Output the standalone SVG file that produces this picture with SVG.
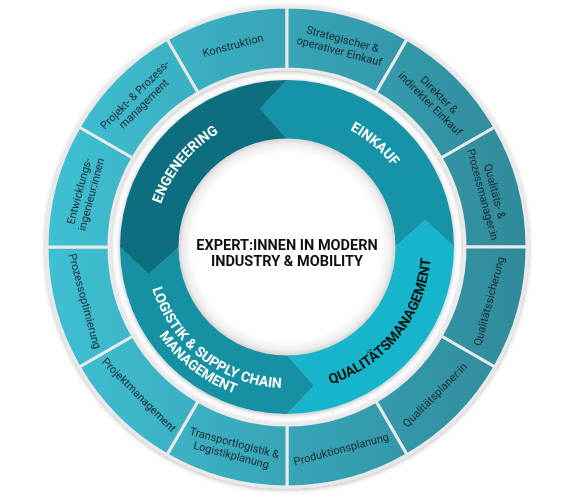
<svg xmlns="http://www.w3.org/2000/svg" width="580" height="497" viewBox="0 0 580 497">
  <defs>
    <linearGradient id="ringGrad" gradientUnits="userSpaceOnUse" x1="47" y1="247" x2="527" y2="247">
      <stop offset="0" stop-color="#3fc0d3"/>
      <stop offset="1" stop-color="#2f8a9a"/>
    </linearGradient>
    <radialGradient id="coreGrad" cx="287" cy="247" r="109" gradientUnits="userSpaceOnUse">
      <stop offset="0" stop-color="#ffffff"/>
      <stop offset="0.86" stop-color="#ffffff"/>
      <stop offset="0.95" stop-color="#eeeeee"/>
      <stop offset="1" stop-color="#d2d2d2"/>
    </radialGradient>
    <filter id="shadow" x="-10%" y="-10%" width="120%" height="120%">
      <feDropShadow dx="0" dy="1" stdDeviation="2.5" flood-color="#000" flood-opacity="0.3"/>
    </filter>
    <path id="pEng" d="M 162.83,294.66 A 133 133 0 0 1 307.80,115.64"/>
    <path id="pEin" d="M 242.60,121.63 A 133 133 0 0 1 417.78,271.23"/>
    <path id="pQual" d="M 265.71,389.42 A 144 144 0 0 0 420.98,194.22"/>
    <path id="pLog1" d="M 152.52,204.60 A 141 141 0 0 0 362.76,365.92"/>
    <path id="pLog2" d="M 138.70,200.24 A 155.5 155.5 0 0 0 370.55,378.15"/>
  </defs>
  <style>
    .seg { fill: url(#ringGrad); stroke: #e9e9e9; stroke-width: 3; stroke-linejoin: round; }
    .lbl { font-family: Roboto, "Liberation Sans", sans-serif; font-size: 11px; fill: #1b2730; text-anchor: middle; }
    .arr { font-family: Roboto, "Liberation Sans", sans-serif; font-size: 14px; font-weight: 700; fill: #ffffff; text-anchor: middle; }
    .core { font-family: Roboto, "Liberation Sans", sans-serif; font-size: 14.5px; font-weight: 700; fill: #111111; text-anchor: middle; }
  </style>
  <rect width="580" height="497" fill="#ffffff"/>

  <g id="outer-ring" filter="url(#shadow)">
    <g id="konstruktion">
      <path class="seg" d="M 167,39.15 A 240 240 0 0 1 287,7 L 287,69 A 178 178 0 0 0 198,92.85 Z"/>
      <text class="lbl" transform="translate(232.91,45.13) rotate(-15)" y="4">Konstruktion</text>
    </g>
    <g id="strategischer-einkauf">
      <path class="seg" d="M 287,7 A 240 240 0 0 1 407,39.15 L 376,92.85 A 178 178 0 0 0 287,69 Z"/>
      <text class="lbl" transform="translate(341.09,45.13) rotate(15)"><tspan x="0" y="-2.5">Strategischer &amp;</tspan><tspan x="0" y="10">operativer Einkauf</tspan></text>
    </g>
    <g id="direkter-einkauf">
      <path class="seg" d="M 407,39.15 A 240 240 0 0 1 494.85,127 L 441.15,158 A 178 178 0 0 0 376,92.85 Z"/>
      <text class="lbl" transform="translate(434.78,99.22) rotate(45)"><tspan x="0" y="-2.5">Direkter &amp;</tspan><tspan x="0" y="10">indirekter Einkauf</tspan></text>
    </g>
    <g id="qualitaets-prozessmanager">
      <path class="seg" d="M 494.85,127 A 240 240 0 0 1 527,247 L 465,247 A 178 178 0 0 0 441.15,158 Z"/>
      <text class="lbl" transform="translate(488.87,192.91) rotate(75)"><tspan x="0" y="-2.5">Qualitäts- &amp;</tspan><tspan x="0" y="10">Prozessmanager:in</tspan></text>
    </g>
    <g id="qualitaetssicherung">
      <path class="seg" d="M 527,247 A 240 240 0 0 1 494.85,367 L 441.15,336 A 178 178 0 0 0 465,247 Z"/>
      <text class="lbl" transform="translate(488.87,301.09) rotate(-75)" y="4">Qualitätssicherung</text>
    </g>
    <g id="qualitaetsplaner">
      <path class="seg" d="M 494.85,367 A 240 240 0 0 1 407,454.85 L 376,401.15 A 178 178 0 0 0 441.15,336 Z"/>
      <text class="lbl" transform="translate(434.78,394.78) rotate(-45)" y="4">Qualitätsplaner:in</text>
    </g>
    <g id="produktionsplanung">
      <path class="seg" d="M 407,454.85 A 240 240 0 0 1 287,487 L 287,425 A 178 178 0 0 0 376,401.15 Z"/>
      <text class="lbl" transform="translate(341.09,448.87) rotate(-15)" y="4">Produktionsplanung</text>
    </g>
    <g id="transportlogistik">
      <path class="seg" d="M 287,487 A 240 240 0 0 1 167,454.85 L 198,401.15 A 178 178 0 0 0 287,425 Z"/>
      <text class="lbl" transform="translate(232.91,448.87) rotate(15)"><tspan x="0" y="-2.5">Transportlogistik &amp;</tspan><tspan x="0" y="10">Logistikplanung</tspan></text>
    </g>
    <g id="projektmanagement">
      <path class="seg" d="M 167,454.85 A 240 240 0 0 1 79.15,367 L 132.85,336 A 178 178 0 0 0 198,401.15 Z"/>
      <text class="lbl" transform="translate(139.22,394.78) rotate(45)" y="4">Projektmanagement</text>
    </g>
    <g id="prozessoptimierung">
      <path class="seg" d="M 79.15,367 A 240 240 0 0 1 47,247 L 109,247 A 178 178 0 0 0 132.85,336 Z"/>
      <text class="lbl" transform="translate(85.13,301.09) rotate(75)" y="4">Prozessoptimierung</text>
    </g>
    <g id="entwicklungsingenieure">
      <path class="seg" d="M 47,247 A 240 240 0 0 1 79.15,127 L 132.85,158 A 178 178 0 0 0 109,247 Z"/>
      <text class="lbl" transform="translate(85.13,192.91) rotate(-75)"><tspan x="0" y="-2.5">Entwicklungs-</tspan><tspan x="0" y="10">ingenieur:innen</tspan></text>
    </g>
    <g id="projekt-prozessmanagement">
      <path class="seg" d="M 79.15,127 A 240 240 0 0 1 167,39.15 L 198,92.85 A 178 178 0 0 0 132.85,158 Z"/>
      <text class="lbl" transform="translate(139.22,99.22) rotate(-45)"><tspan x="0" y="-2.5">Projekt- &amp; Prozess-</tspan><tspan x="0" y="10">management</tspan></text>
    </g>
  </g>

  <g id="connectors"></g>

  <g id="arrow-ring" filter="url(#shadow)">
    <g id="einkauf">
      <path fill="#1393a6" d="M 287,80 A 167 167 0 0 1 454,247 L 425.41,220.10 L 395,247 A 108 108 0 0 0 287,139 L 260.10,108.59 Z"/>
    </g>
    <g id="qualitaetsmanagement">
      <path fill="#17b5cc" d="M 454,247 A 167 167 0 0 1 287,414 L 313.90,385.41 L 287,355 A 108 108 0 0 0 395,247 L 425.41,220.10 Z"/>
    </g>
    <g id="logistik">
      <path fill="#1290a3" d="M 287,414 A 167 167 0 0 1 120,247 L 148.59,273.90 L 179,247 A 108 108 0 0 0 287,355 L 313.90,385.41 Z"/>
    </g>
    <g id="engeneering">
      <path fill="#0e6e7f" d="M 120,247 A 167 167 0 0 1 287,80 L 260.10,108.59 L 287,139 A 108 108 0 0 0 179,247 L 148.59,273.90 Z"/>
    </g>
  </g>

  <g id="arrow-labels">
    <text class="arr"><textPath href="#pEng" startOffset="50%">ENGENEERING</textPath></text>
    <text class="arr"><textPath href="#pEin" startOffset="50%">EINKAUF</textPath></text>
    <text class="arr" style="fill:#111111"><textPath href="#pQual" startOffset="50%">QUALITÄTSMANAGEMENT</textPath></text>
    <text class="arr"><textPath href="#pLog1" startOffset="50%">LOGISTIK &amp; SUPPLY CHAIN</textPath></text>
    <text class="arr"><textPath href="#pLog2" startOffset="50%">MANAGEMENT</textPath></text>
  </g>

  <g id="center">
    <circle cx="287" cy="247" r="108.5" fill="url(#coreGrad)"/>
    <text class="core"><tspan x="287" y="249.5">EXPERT:INNEN IN MODERN</tspan><tspan x="287" y="266">INDUSTRY &amp; MOBILITY</tspan></text>
  </g>
</svg>
